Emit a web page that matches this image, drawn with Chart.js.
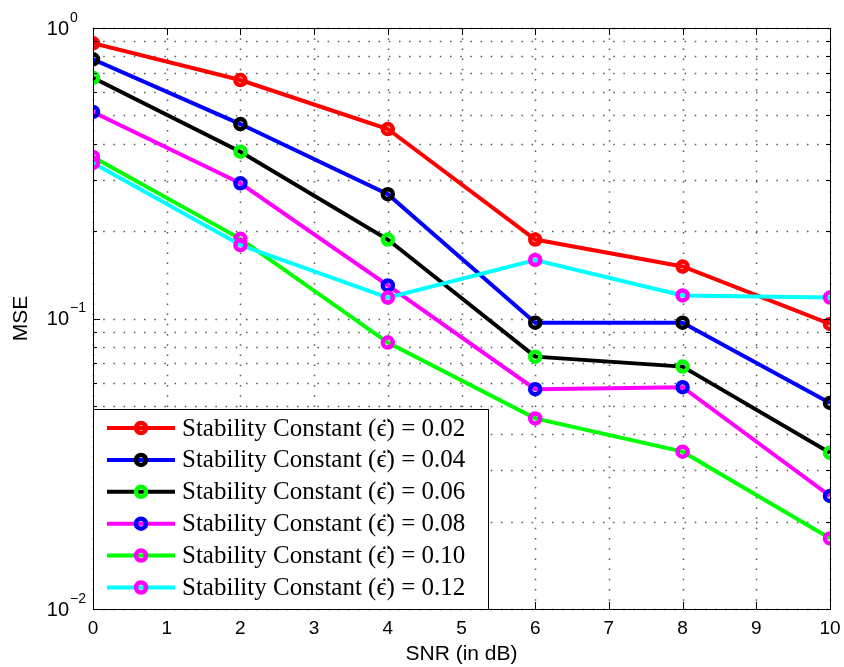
<!DOCTYPE html>
<html>
<head>
<meta charset="utf-8">
<script src="https://cdn.jsdelivr.net/npm/chart.js@4.4.0/dist/chart.umd.min.js"></script>
<style>
  html, body { margin: 0; padding: 0; background: #fff; }
  #wrap { width: 844px; height: 667px; position: relative; }
</style>
</head>
<body>
<div id="wrap"><canvas id="mseChart"></canvas></div>
<script>
// SNR points and MSE per stability constant
var snr = [0, 2, 4, 6, 8, 10];
var mse002 = [0.886, 0.662, 0.449, 0.187, 0.151, 0.0958];
var mse004 = [0.78, 0.467, 0.268, 0.0967, 0.0967, 0.0512];
var mse006 = [0.674, 0.375, 0.187, 0.0739, 0.0683, 0.0345];
var mse008 = [0.514, 0.292, 0.130, 0.0571, 0.058, 0.0245];
var mse010 = [0.36, 0.188, 0.0826, 0.0453, 0.0348, 0.0175];
var mse012 = [0.343, 0.179, 0.118, 0.159, 0.120, 0.118];

var epsValues = ['0.02', '0.04', '0.06', '0.08', '0.10', '0.12'];
var lineColors = ['#ff0000', '#0000ff', '#000000', '#ff00ff', '#00ff00', '#00ffff'];
var markerColors = ['#ff0000', '#000000', '#00ff00', '#0000ff', '#ff00ff', '#ff00ff'];

var xTicks = [0, 1, 2, 3, 4, 5, 6, 7, 8, 9, 10];
var yDecades = [-2, -1, 0];

var allSeries = [mse002, mse004, mse006, mse008, mse010, mse012];

function legendText(i) {
  return 'Stability Constant (\u03F5\u0308) = ' + epsValues[i];
}

var datasets = allSeries.map(function (vals, i) {
  return {
    label: legendText(i),
    data: snr.map(function (x, k) { return { x: x, y: vals[k] }; }),
    borderColor: lineColors[i],
    borderWidth: 4,
    pointRadius: 5,
    pointBorderWidth: 4.5,
    pointBorderColor: markerColors[i],
    pointBackgroundColor: 'rgba(0,0,0,0)',
    tension: 0,
    order: allSeries.length - 1 - i   // later series on top
  };
});

// dotted grid, inner tick marks and the axes box
var frame = {
  id: 'frame',
  beforeDatasetsDraw: function (chart) {
    var ctx = chart.ctx, a = chart.chartArea;
    var xs = chart.scales.x, ys = chart.scales.y;
    ctx.save();
    ctx.strokeStyle = '#555';
    ctx.lineWidth = 1.5;
    ctx.setLineDash([1.5, 8.7]);
    xTicks.forEach(function (t) {
      var px = Math.round(xs.getPixelForValue(t)) + 0.5;
      ctx.beginPath(); ctx.moveTo(px, a.top); ctx.lineTo(px, a.bottom); ctx.stroke();
    });
    yDecades.forEach(function (d) {
      for (var m = 1; m <= 9; m++) {
        var v = m * Math.pow(10, d);
        if (v > 1) break;
        var py = Math.round(ys.getPixelForValue(v)) + 0.5;
        ctx.beginPath(); ctx.moveTo(a.left, py); ctx.lineTo(a.right, py); ctx.stroke();
      }
    });
    ctx.restore();
  },
  afterDraw: function (chart) {
    var ctx = chart.ctx, a = chart.chartArea;
    var xs = chart.scales.x, ys = chart.scales.y;
    ctx.save();
    ctx.strokeStyle = '#000';
    ctx.lineWidth = 1;
    ctx.setLineDash([]);
    // tick marks pointing inwards
    ctx.beginPath();
    xTicks.forEach(function (t) {
      var px = Math.round(xs.getPixelForValue(t)) + 0.5;
      ctx.moveTo(px, a.bottom); ctx.lineTo(px, a.bottom - 7);
      ctx.moveTo(px, a.top); ctx.lineTo(px, a.top + 7);
    });
    yDecades.forEach(function (d) {
      for (var m = 1; m <= 9; m++) {
        var v = m * Math.pow(10, d);
        if (v > 1) break;
        var len = m === 1 ? 7 : 4;
        var py = Math.round(ys.getPixelForValue(v)) + 0.5;
        ctx.moveTo(a.left, py); ctx.lineTo(a.left + len, py);
        ctx.moveTo(a.right, py); ctx.lineTo(a.right - len, py);
      }
    });
    ctx.stroke();
    ctx.strokeRect(Math.round(a.left) + 0.5, Math.round(a.top) + 0.5,
      Math.round(a.right - a.left), Math.round(a.bottom - a.top));

    // y tick labels as powers of ten
    ctx.fillStyle = '#000';
    ctx.textBaseline = 'middle';
    yDecades.forEach(function (d) {
      var py = ys.getPixelForValue(Math.pow(10, d));
      ctx.font = '20px "Liberation Sans", Arial, sans-serif';
      ctx.textAlign = 'right';
      ctx.fillText('10', 69, py + 1);
      ctx.font = '14px "Liberation Sans", Arial, sans-serif';
      ctx.textAlign = 'left';
      ctx.fillText(d === 0 ? '0' : '\u2212' + Math.abs(d), 70, py - 10);
    });

    // legend box inside the plot
    var lx = 93, ly = 409, lw = 395, lh = 200;
    ctx.fillStyle = '#fff';
    ctx.fillRect(lx, ly, lw, lh);
    ctx.strokeRect(lx + 0.5, ly + 0.5, lw, lh);
    chart.data.datasets.forEach(function (ds, i) {
      var cy = 428 + i * 31.9;
      ctx.strokeStyle = lineColors[i];
      ctx.lineWidth = 4;
      ctx.beginPath(); ctx.moveTo(107, cy); ctx.lineTo(175, cy); ctx.stroke();
      ctx.strokeStyle = markerColors[i];
      ctx.lineWidth = 4.5;
      ctx.beginPath(); ctx.arc(141, cy, 5, 0, Math.PI * 2); ctx.stroke();
      ctx.fillStyle = '#000';
      ctx.font = '25px "Liberation Serif", "DejaVu Serif", serif';
      ctx.textAlign = 'left';
      ctx.textBaseline = 'middle';
      ctx.fillText(ds.label, 182, cy + 1);
    });
    ctx.restore();
  }
};

new Chart(document.getElementById('mseChart'), {
  type: 'line',
  data: { datasets: datasets },
  options: {
    responsive: true,
    maintainAspectRatio: false,
    animation: false,
    devicePixelRatio: 1,
    layout: { padding: { top: 28, right: 14, left: 0, bottom: 0 } },
    plugins: { legend: { display: false }, tooltip: { enabled: false } },
    scales: {
      x: {
        type: 'linear',
        min: 0,
        max: 10,
        ticks: {
          stepSize: 1,
          color: '#000',
          padding: 8,
          font: { family: '"Liberation Sans", Arial, sans-serif', size: 19 }
        },
        grid: { display: false, drawTicks: false },
        border: { display: false },
        title: {
          display: true,
          text: 'SNR (in dB)',
          color: '#000',
          padding: { top: 0, bottom: 0 },
          font: { family: '"Liberation Sans", Arial, sans-serif', size: 21 }
        },
        afterFit: function (s) { s.height = 58; s.paddingLeft = 0; s.paddingRight = 0; }
      },
      y: {
        type: 'logarithmic',
        min: 0.01,
        max: 1,
        ticks: { display: false },
        grid: { display: false, drawTicks: false },
        border: { display: false },
        title: {
          display: true,
          text: 'MSE',
          color: '#000',
          padding: { top: 9, bottom: 0 },
          font: { family: '"Liberation Sans", Arial, sans-serif', size: 21 }
        },
        afterFit: function (s) { s.width = 93; s.paddingTop = 0; s.paddingBottom = 0; }
      }
    }
  },
  plugins: [frame]
});
</script>
</body>
</html>
